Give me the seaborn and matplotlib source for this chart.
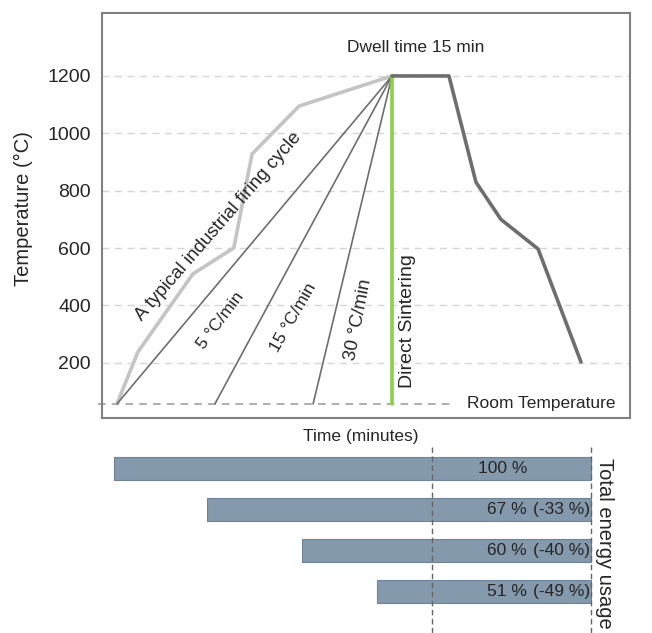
import numpy as np
import pandas as pd
import matplotlib
matplotlib.use("Agg")
import matplotlib.pyplot as plt
import seaborn as sns

# style
sns.set_style("white")
plt.rcParams['font.family'] = ['Liberation Sans', 'DejaVu Sans']

# ================================
# data (schematic time units, peak reached at t = 100)
# ================================
room_T = 57
peak_T = 1200
peak_t = 100

ramp_names = ["5 °C/min", "15 °C/min", "30 °C/min"]
ramp_start = [0, 35.6, 71.3]

industrial_t = [0, 7.6, 27.6, 42.5, 49.1, 66.2, 100]
industrial_T = [57, 238, 510, 601, 928, 1095, 1200]

cool_t = [100, 120.7, 130.5, 139.6, 153.1, 168.7]
cool_T = [1200, 1200, 830, 700, 597, 203]

y_ticks = [200, 400, 600, 800, 1000, 1200]

# energy bars
bar_start = [-1.1, 32.7, 67.3, 94.5]
bar_end = 172.4
energy_pct = ["100 %", "67 %", "60 %", "51 %"]
energy_diff = ["", "(-33 %)", "(-40 %)", "(-49 %)"]
ref_t = 114.5

grey_dark = "#6e6e6e"
grey_light = "#c4c4c4"
green = "#8cd04a"
bar_col = "#8599ac"

fig = plt.figure(figsize=(6.52, 6.33), dpi=100)
ax = fig.add_axes([0.1564, 0.3397, 0.8098, 0.6398])
axb = fig.add_axes([0.1564, 0.0, 0.8098, 0.2938], sharex=ax)

# ================================
# top: firing cycles
# ================================
for t in y_ticks:
    ax.axhline(t, color="#d6d6d6", lw=1, ls=(0, (5, 4)), zorder=0)

ax.plot([-6.9, 122.2], [room_T, room_T], color="#999999", lw=1.1,
        ls=(0, (5, 4)), clip_on=False, zorder=1)

line_kw = dict(ax=ax, sort=False, estimator=None)
sns.lineplot(x=industrial_t, y=industrial_T, color=grey_light, lw=2.6, **line_kw)

for s in ramp_start:
    sns.lineplot(x=[s, peak_t], y=[room_T, peak_T], color=grey_dark, lw=1.2, **line_kw)

sns.lineplot(x=[peak_t, peak_t], y=[room_T, peak_T], color=green, lw=2.6, **line_kw)
sns.lineplot(x=cool_t, y=cool_T, color=grey_dark, lw=2.6, **line_kw)

fs = 12.5
ax.text(37.0, 675, "A typical industrial firing cycle", rotation=49,
        ha="center", va="center", rotation_mode="anchor", fontsize=13.5)
label_pos = [(37.8, 346, 53, 12.5), (64, 357, 60, 12.5), (87.7, 350, 79, 13.5)]
for name, (tx, ty, rot, f) in zip(ramp_names, label_pos):
    ax.text(tx, ty, name, rotation=rot, ha="center", va="center",
            rotation_mode="anchor", fontsize=f)
ax.text(105.8, 346, "Direct Sintering", rotation=90, ha="center", va="center", fontsize=14)
ax.text(108.7, 1298, "Dwell time 15 min", ha="center", va="center", fontsize=fs)
ax.text(154.2, room_T, "Room Temperature", ha="center", va="center", fontsize=fs)

ax.set_xlim(-5.45, 186.5)
ax.set_ylim(8, 1419.5)
ax.set_yticks(y_ticks)
ax.tick_params(axis="y", labelsize=14, length=0, pad=8)
ax.tick_params(axis="x", bottom=False, labelbottom=False)
ax.set_ylabel("Temperature (°C)", fontsize=14.5)
ax.yaxis.set_label_coords(-0.131, 0.516)
ax.set_xlabel("Time (minutes)", fontsize=fs)
ax.xaxis.set_label_coords(0.49, -0.027)
for sp in ax.spines.values():
    sp.set_color("#808080")
    sp.set_linewidth(1.5)

# ================================
# bottom: total energy usage
# ================================
ypos = np.arange(len(bar_start))
widths = [bar_end - s for s in bar_start]
axb.barh(ypos, widths, left=bar_start, height=0.56, color=bar_col,
         edgecolor="#6f8296", lw=0.8, zorder=1)

for x in [ref_t, bar_end]:
    axb.axvline(x, color="#666666", lw=1, ls=(0, (4, 2.5)), zorder=2)

for y, p, d in zip(ypos, energy_pct, energy_diff):
    axb.text(149.1, y, p, ha="right", va="center", fontsize=fs, zorder=3)
    axb.text(bar_end - 0.3, y, d, ha="right", va="center", fontsize=fs, zorder=3)

axb.text(bar_end + 4.8, -0.26, "Total energy usage", rotation=270,
         ha="center", va="top", fontsize=14.5)

axb.set_ylim(4.01, -0.52)
axb.axis("off")

fig.savefig("out.png", dpi=100)
